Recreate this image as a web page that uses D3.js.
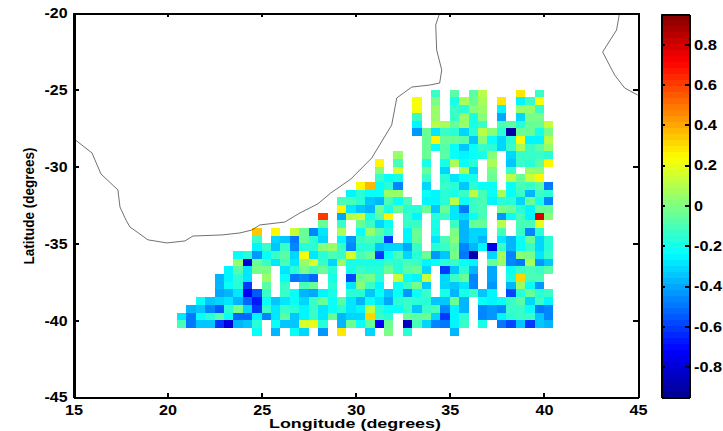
<!DOCTYPE html>
<meta charset="utf-8">
<head>
<style>
  body { margin: 0; background-color: #fff; }
  text { font-family: "Liberation Sans", Arial, sans-serif; font-weight: bold; fill: #000; }
  .axis path, .axis line { stroke: #000; shape-rendering: crispEdges; }
  .axis path { stroke-width: 2px; }
  .axis line { stroke-width: 2px; }
  .y.axis path { stroke-width: 3px; }
  .axis text { font-size: 15px; }
</style>
</head>
<body>
<svg id="chart" width="723" height="431"></svg>
<script src="https://d3js.org/d3.v7.min.js"></script>
<script>
var _ = null;

// first filled column of each row, 0 is longitude 20.5
var rowStart = [27,25,25,25,25,25,26,26,23,21,21,21,19,18,17,17,15,15,8,8,8,6,6,5,4,4,4,2,1,0,0,8];

var row00 = [-.12,_,-.07,_,-.08,.1,_,_,_,.28,_,-.13];
var row01 = [.22,_,-.02,_,-.2,.06,-.04,.06,_,.27,_,-.26,-.14,.23];
var row02 = [.22,_,.05,_,-.13,-.15,0,.03,_,-.25,_,.03,.03,-.12];
var row03 = [-.13,_,.05,_,-.12,.03,-.2,0,_,-.4,_,-.32,-.02,-.02];
var row04 = [-.24,_,.1,.07,-.03,.03,-.19,-.14,_,-.1,-.07,-.16,-.03,-.03,.12];
var row05 = [-.42,-.05,-.27,-.13,-.17,-.3,-.17,.1,0,-.17,-.9,-.05,-.03,-.2,-.02];
var row06 = [-.03,.24,-.05,-.04,-.06,-.33,.02,-.22,-.3,-.17,.22,-.24,-.24,.1];
var row07 = [-.03,-.22,-.07,-.22,-.35,-.22,-.13,-.15,-.31,-.13,.08,-.12,-.07,.03];
var row08 = [.05,_,_,-.05,_,-.07,-.22,-.24,-.22,-.18,0,_,-.3,-.12,-.14,-.12,-.17];
var row09 = [.24,_,-.1,_,_,-.2,_,-.18,.08,-.23,-.16,_,.08,_,-.35,-.14,-.16,-.06,.24];
var row10 = [0,_,.15,_,_,-.05,_,-.32,_,.07,-.31,_,-.02,_,-.14,_,.03,0];
var row11 = [-.12,-.22,-.2,_,_,-.13,_,-.17,-.28,-.22,-.18,_,-.03,_,.1,-.03,.13,.24];
var row12 = [.24,.36,-.22,-.15,-.45,_,_,-.32,_,-.12,-.16,-.35,-.17,-.23,-.22,_,-.23,-.1,-.12,-.06,-.48];
var row13 = [-.26,-.17,-.23,-.22,.03,.03,_,_,-.23,-.24,-.17,-.18,-.14,.1,-.1,-.22,.07,-.22,-.12,-.38,-.13,-.17];
var row14 = [-.1,-.1,-.15,-.33,-.36,-.09,-.21,-.1,_,-.26,-.24,-.15,.1,-.22,-.12,-.1,-.25,-.17,-.16,-.32,-.03,-.18,-.47];
var row15 = [.24,-.27,-.33,-.36,-.05,-.18,-.03,-.16,-.16,-.05,-.35,-.05,-.27,-.48,-.12,-.1,_,-.02,-.03,-.17,-.25,-.03,-.03];
var row16 = [.6,_,-.4,.1,.13,-.2,-.07,.25,_,-.12,-.25,_,-.15,-.12,-.27,-.3,-.23,-.11,_,-.42,-.22,-.1,-.25,.78,.02];
var row17 = [-.03,_,-.12,_,-.03,-.13,-.3,-.23,_,-.12,-.12,_,-.2,_,-.14,-.38,-.05,-.04,_,.1,_,-.11,-.1,.2];
var row18 = [.33,_,.25,_,.12,-.05,-.45,-.28,_,.07,_,-.22,.05,-.08,-.17,_,-.24,-.05,_,-.2,_,-.02,-.37,-.3,-.3,_,-.1,_,-.12,-.47,-.17];
var row19 = [-.13,_,-.3,-.35,-.48,-.05,-.15,-.3,_,-.25,-.42,-.13,-.1,-.12,-.6,_,-.24,-.03,_,-.27,-.1,0,-.38,-.3,-.38,_,-.28,-.38,-.23,-.05,-.32,-.17];
var row20 = [-.25,-.13,-.33,-.13,-.45,-.15,-.16,0,.05,-.12,-.45,-.15,-.15,-.33,-.3,-.3,-.4,-.13,_,-.17,-.13,-.03,-.47,-.37,-.25,-.75,-.12,-.38,-.23,-.12,-.32,-.17];
var row21 = [-.23,-.17,-.43,-.22,-.12,-.08,-.32,.23,-.28,-.17,-.1,-.12,.15,-.1,-.05,-.6,-.22,-.1,-.3,-.15,-.03,-.42,-.33,-.02,-.5,-.88,_,-.3,.07,-.45,0,-.02,-.27,-.13];
var row22 = [.05,-.78,-.05,-.13,-.28,-.1,-.27,.05,.15,-.13,-.3,.03,-.2,-.18,-.18,-.2,-.12,-.15,-.1,-.12,-.25,-.22,-.17,-.13,-.22,-.25,_,-.03,.05,-.45,-.5,.07,-.42,-.33];
var row23 = [-.24,-.06,-.27,-.02,-.02,_,-.28,-.17,-.02,-.1,-.05,-.15,_,-.2,-.14,-.15,-.17,-.05,-.16,-.07,-.03,-.3,_,-.62,-.33,-.17,-.36,_,-.4,_,-.22,-.12,-.1,-.12,-.06];
var row24 = [-.37,-.25,-.15,-.27,_,.05,_,-.22,-.48,-.45,-.53,_,-.18,_,-.57,-.05,-.01,-.17,_,.12,-.22,-.25,.12,_,-.3,-.12,-.05,-.45,_,-.4,_,-.2,.32,-.1,-.1];
var row25 = [-.38,-.22,-.15,-.62,_,-.08,_,-.12,_,-.1,-.05,_,-.16,_,-.28,0,-.13,-.26,_,-.22,-.13,-.01,-.33,_,-.32,-.35,-.27,-.47,_,-.42,_,-.38,.03,-.22,-.43];
var row26 = [-.4,-.38,-.27,-.72,-.55,-.12,_,-.13,-.22,-.38,-.4,-.25,-.2,_,-.17,-.16,-.35,-.22,-.35,-.22,-.42,-.22,-.13,_,-.18,-.38,-.2,-.14,-.35,-.25,_,-.58,-.15,-.04,-.17,-.12];
var row27 = [-.23,-.35,-.3,-.28,-.38,-.52,-.68,-.23,-.35,-.27,-.22,-.32,-.13,-.05,-.22,-.08,-.28,-.38,-.22,-.27,-.4,-.15,-.13,-.15,-.17,-.33,-.35,-.04,-.37,_,-.22,-.24,-.22,-.12,-.07,-.3,-.12,-.24];
var row28 = [-.38,-.35,-.45,-.55,-.16,-.02,-.3,-.62,-.12,-.27,-.14,-.16,-.25,-.13,-.28,-.22,-.15,-.28,-.24,.13,-.15,-.22,-.22,-.14,-.33,-.14,-.1,-.47,-.24,-.38,_,-.45,-.43,-.47,-.12,-.12,-.22,-.5,-.45];
var row29 = [-.28,-.48,-.22,-.16,-.08,-.22,-.52,-.52,-.25,-.45,-.28,-.07,-.33,-.24,-.13,-.27,-.03,-.38,-.3,-.3,.32,-.12,-.17,_,-.03,-.06,-.03,-.3,-.62,-.25,-.15,_,-.45,-.42,-.26,-.17,-.12,-.12,-.33,-.45];
var row30 = [-.1,-.5,-.33,-.33,-.62,-.8,-.38,-.33,-.15,_,-.22,-.35,-.35,.15,.2,-.17,_,-.36,-.03,-.23,-.05,-.72,-.03,_,-.85,-.1,-.32,-.45,-.5,-.25,-.13,_,-.18,_,-.5,-.58,-.33,-.6,-.33,-.38];
var row31 = [-.22,_,-.38,_,-.22,-.32,_,-.42,_,.27,_,_,-.3,_,-.02,_,-.16,_,_,_,_,-.38];

var rows = [row00,row01,row02,row03,row04,row05,row06,row07,row08,row09,row10,row11,row12,row13,row14,row15,
            row16,row17,row18,row19,row20,row21,row22,row23,row24,row25,row26,row27,row28,row29,row30,row31];

// coastlines, lon then lat
var coastLon = [15.03,15.98,16.46,17.36,17.47,17.79,18,18.96,19.97,20.92,21.35,22.89,23.84,24.48,24.9,26.23,27.03,27.98,28.67,29.74,30.85,31.91,32.18,32.98,33.93,34.46,34.57,34.3,34.25,34.46];
var coastLat = [-28.2,-29.11,-30.48,-31.52,-32.63,-33.48,-33.93,-34.77,-34.97,-34.84,-34.52,-34.45,-34.32,-34.13,-33.8,-33.61,-33.02,-32.43,-31.72,-30.81,-29.44,-27.29,-25.53,-24.82,-24.69,-24.56,-23.71,-22.41,-20.78,-20];
var madLon = [44.02,43.86,43.12,43.76,44.29,44.98];
var madLat = [-20,-21.11,-22.54,-24.04,-24.88,-25.34];

var xTicks = [15,20,25,30,35,40,45];
var yTicks = [-20,-25,-30,-35,-40,-45];
var cTicks = [-.8,-.6,-.4,-.2,0,.2,.4,.6,.8];

var svg = d3.select("#chart");

var x = d3.scaleLinear().domain([15,45]).range([73.5,638]);
var y = d3.scaleLinear().domain([-45,-20]).range([397,13]);
var c = d3.scaleLinear().domain([-.95,.95]).range([397,14]);

// jet, 64 steps
var jet = d3.scaleLinear()
    .domain([0,.125,.375,.625,.875,1])
    .range(["#00008f","#0000ff","#00ffff","#ffff00","#ff0000","#800000"]);
var levels = d3.range(64).map(function(i){ return jet((i+.5)/64); });
var color = d3.scaleQuantize().domain([-.95,.95]).range(levels);

var cells = [];
rows.forEach(function(row,r){
  row.forEach(function(v,i){
    if(v!==null) cells.push({lon:20.5+(rowStart[r]+i)*.5, lat:-25-r*.5, value:v});
  });
});

svg.append("g").selectAll("rect")
    .data(cells)
    .enter().append("rect")
    .attr("x",function(d){ return x(d.lon); })
    .attr("y",function(d){ return y(d.lat); })
    .attr("width",x(15.5)-x(15))
    .attr("height",y(-20.5)-y(-20))
    .attr("fill",function(d){ return color(d.value); })
    .attr("shape-rendering","crispEdges");

var line = d3.line()
    .x(function(d){ return x(d[0]); })
    .y(function(d){ return y(d[1]); });

svg.append("path").attr("d",line(d3.zip(coastLon,coastLat)))
    .attr("fill","none").attr("stroke","#333").attr("stroke-width",.7);
svg.append("path").attr("d",line(d3.zip(madLon,madLat)))
    .attr("fill","none").attr("stroke","#333").attr("stroke-width",.7);

// stretch tick text, the original is wider than the font
function stretch(g){
  g.selectAll("text").each(function(){
    var s = d3.select(this), t = s.text();
    var digits = t.replace(/[-.]/g,"").length;
    if(t) s.attr("textLength",digits*9+(t.length-digits)*5)
           .attr("lengthAdjust","spacingAndGlyphs");
  });
}

// plot frame
var gx = svg.append("g").attr("class","x axis").attr("transform","translate(0,397)")
    .call(d3.axisBottom(x).tickValues(xTicks).tickFormat(d3.format("d")).tickSizeInner(-4).tickSizeOuter(0).tickPadding(7));
gx.call(stretch);

var gy = svg.append("g").attr("class","y axis").attr("transform","translate(73.5,0)")
    .call(d3.axisLeft(y).tickValues(yTicks).tickFormat(function(d){ return "-"+Math.abs(d); }).tickSizeInner(-5).tickSizeOuter(0).tickPadding(6));
gy.call(stretch);

svg.append("g").attr("class","axis").attr("transform","translate(0,13)")
    .call(d3.axisTop(x).tickValues(xTicks).tickFormat("").tickSizeInner(-4).tickSizeOuter(0));
svg.append("g").attr("class","axis").attr("transform","translate(638,0)")
    .call(d3.axisRight(y).tickValues(yTicks).tickFormat("").tickSizeInner(-5).tickSizeOuter(0));

svg.append("text").attr("x",355).attr("y",428).attr("text-anchor","middle")
    .attr("textLength",172).attr("lengthAdjust","spacingAndGlyphs")
    .style("font-size","13.5px").text("Longitude (degrees)");
svg.append("text").attr("transform","translate(34,206) rotate(-90)").attr("text-anchor","middle")
    .attr("textLength",117).attr("lengthAdjust","spacingAndGlyphs")
    .style("font-size","15px").text("Latitude (degrees)");

// colorbar
var bandH = (c(-.95)-c(.95))/64;
svg.append("g").selectAll("rect")
    .data(levels)
    .enter().append("rect")
    .attr("x",661)
    .attr("y",function(d,i){ return c(-.95)-(i+1)*bandH; })
    .attr("width",28)
    .attr("height",bandH+.5)
    .attr("fill",function(d){ return d; })
    .attr("shape-rendering","crispEdges");

var cFmt = function(d){ return d===0 ? "0" : d3.format(".1f")(d).replace("−","-"); };
var gc = svg.append("g").attr("class","axis").attr("transform","translate(689,0)")
    .call(d3.axisRight(c).tickValues(cTicks).tickFormat(cFmt).tickSizeInner(-4).tickSizeOuter(0).tickPadding(5));
gc.call(stretch);
svg.append("g").attr("class","axis").attr("transform","translate(661,0)")
    .call(d3.axisLeft(c).tickValues(cTicks).tickFormat("").tickSizeInner(-4).tickSizeOuter(0));
svg.append("g").attr("class","axis").attr("transform","translate(0,14)")
    .call(d3.axisTop(d3.scaleLinear().domain([0,1]).range([661,689])).tickValues([]).tickSizeOuter(0));
svg.append("g").attr("class","axis").attr("transform","translate(0,397)")
    .call(d3.axisBottom(d3.scaleLinear().domain([0,1]).range([661,689])).tickValues([]).tickSizeOuter(0));
</script>
</body>
